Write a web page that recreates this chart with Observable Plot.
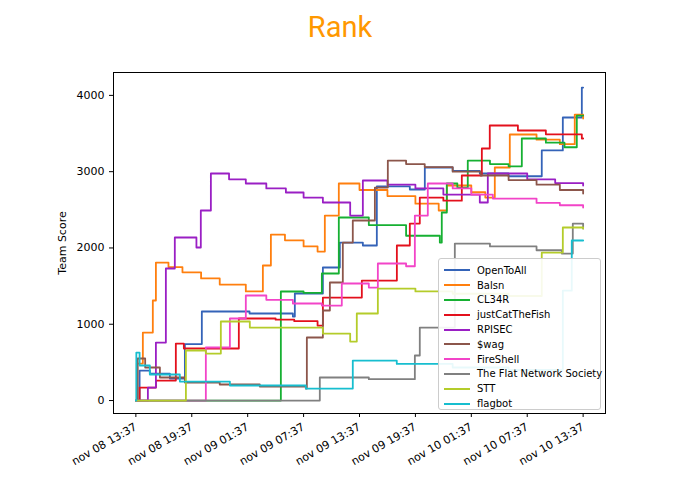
<!DOCTYPE html>
<html><head><meta charset="utf-8">
<script src="https://cdn.jsdelivr.net/npm/d3@7"></script>
<script src="https://cdn.jsdelivr.net/npm/@observablehq/plot@0.6"></script>
<style>
body{margin:0;background:#fff;font-family:"DejaVu Sans",sans-serif;}
#wrap{position:relative;width:680px;height:484px;}
#title{height:50px;line-height:54px;text-align:center;color:#ff9800;font-size:29px;font-family:Roboto,"DejaVu Sans",sans-serif;}
#legend{position:absolute;left:438px;top:258px;width:163px;height:152px;background:rgba(255,255,255,0.9);border:1px solid #ccc;border-radius:3px;box-sizing:border-box;padding-top:4px;font-size:10px;white-space:nowrap;}
.li{height:14.8px;display:flex;align-items:center;}
.li span.s{display:inline-block;width:26px;height:2px;margin:0 7px 0 5px;flex:none;}
</style></head><body>
<div id="wrap"><div id="title">Rank</div><div id="chart"></div><div id="legend"></div></div>
<script>
const teams = ["OpenToAll","Balsn","CL34R","justCatTheFish","RPISEC","$wag","FireShell","The Flat Network Society","STT","flagbot"];
const colors = ["#3463b8","#ff7f0e","#16b032","#e3101c","#9a1fc4","#8c564b","#f244c8","#808080","#b4cc2a","#17becf"];
const xTickHours = [0,6,12,18,24,30,36,42,48];
const yTicks = [0,1000,2000,3000,4000];
// [hours since nov 08 13:37, score]
const OpenToAll = [[0,0],[0.4,393],[1.5,354],[3.65,288],[5.26,740],[7.08,1167],[12.2,1141],[16.85,1101],[17.06,1403],[20.07,1744],[21.89,2071],[24.36,2032],[25.86,2806],[29.4,2766],[31.01,3055],[34,3010],[36.91,2976],[40,2940],[43.56,3278],[45.82,3710],[47.86,4103],[48,4103]];
const Balsn = [[0,0],[0.1,485],[0.75,891],[1.82,1311],[2.15,1809],[3.5,1750],[5,1680],[7,1600],[9,1520],[11.8,1430],[13.63,1770],[14.49,2176],[16,2100],[18,2020],[19.5,1953],[20.28,2425],[21.78,2845],[24,2760],[27,2680],[30,2580],[32.5,2491],[33.37,2819],[36,2730],[37.5,2661],[38.52,3055],[40.13,3487],[43,3420],[45.5,3360],[47.1,3749],[48,3697]];
const CL34R = [[0,0],[15.56,1429],[18,1410],[19.96,1665],[21.78,2399],[25,2300],[29,2160],[32.62,2071],[32.83,2465],[33.37,2845],[34.5,2790],[35.62,3146],[38,3100],[40,3070],[41.42,3435],[44,3380],[46,3320],[47.32,3736],[48,3736]];
const justCatTheFish = [[0,0],[0.4,170],[2.15,262],[4.29,747],[5.15,682],[11.05,1075],[15,1060],[17,1040],[19.5,983],[20.07,1350],[24.25,1573],[28.01,2032],[29.4,2320],[30.47,2661],[33,2620],[34.98,2950],[37.13,3304],[37.98,3605],[41,3540],[44,3490],[47.86,3435],[48,3435]];
const RPISEC = [[0,0],[1.29,170],[2.15,760],[3.22,1731],[4.18,2137],[6.5,2006],[6.97,2491],[8.05,2976],[10,2900],[11.8,2845],[14,2780],[16.1,2727],[18,2660],[20.07,2596],[23,2425],[24.36,2884],[27,2830],[30,2780],[33,2700],[36.91,2596],[37.77,2976],[42,2900],[45,2850],[48,2819]];
const swag = [[0,0],[0.2,551],[1,433],[2.58,302],[5.26,236],[9,210],[13.3,184],[18.24,157],[18.35,826],[20.07,1180],[20.82,1547],[22.21,2071],[23.28,2360],[25.65,2792],[27.04,3146],[29,3100],[31,3060],[34,3000],[37,2950],[40,2890],[43,2830],[45.5,2760],[48,2714]];
const FireShell = [[0,0],[7.51,695],[10.09,1075],[11.8,1377],[14,1320],[16.85,1272],[19.96,1245],[22.1,1534],[25,1481],[25.97,1796],[29,1760],[29.94,2425],[31.33,2845],[34,2780],[36,2700],[38.31,2648],[43,2590],[45.5,2560],[48,2530]];
const FlatNetwork = [[0,0],[19.74,302],[25,280],[29.94,590],[30.47,957],[34.23,2058],[38,2020],[43,1970],[45.71,1927],[46.89,2320],[48,2255]];
const STT = [[0,0],[5.37,656],[7.51,616],[9.12,1036],[12.23,957],[20.07,878],[23,773],[23.71,1141],[25.97,1468],[30,1430],[34,1400],[40,1370],[43.56,1940],[45.82,2268],[48,2255]];
const flagbot = [[0,0],[0.05,629],[0.4,459],[1.5,341],[4.72,249],[10.09,197],[18.24,157],[23.28,524],[28,480],[34,433],[40,400],[45.82,1440],[46.78,2098],[48,2098]];
const series = [OpenToAll,Balsn,CL34R,justCatTheFish,RPISEC,swag,FireShell,FlatNetwork,STT,flagbot];

const t0 = Date.UTC(2018,10,8,13,37);
const toDate = h => new Date(t0 + h*3600e3);
const rows = [];
series.forEach((s,i)=>s.forEach(([h,v])=>rows.push({team:teams[i],t:toDate(h),v})));
const fmt = d3.utcFormat("%b %d %H:%M");

const chart = Plot.plot({
  width:680, height:434,
  marginLeft:113, marginRight:75, marginTop:22, marginBottom:71,
  style:{fontFamily:"DejaVu Sans, sans-serif", fontSize:"11px", color:"#000", background:"#fff"},
  x:{type:"utc", domain:[toDate(-2.4),toDate(50.4)], ticks:xTickHours.map(toDate), tickFormat:d=>fmt(d).toLowerCase(), tickRotate:-30, tickSize:4, label:null},
  y:{domain:[-170,4300], ticks:yTicks, tickFormat:d3.format("d"), tickSize:4, label:"Team Score", labelAnchor:"center", labelOffset:55, labelArrow:"none"},
  color:{domain:teams, range:colors},
  marks:[
    Plot.line(rows,{x:"t",y:"v",z:"team",stroke:"team",curve:"step-after",strokeWidth:1.8}),
    Plot.frame({stroke:"#000",strokeWidth:1})
  ]
});
document.getElementById("chart").appendChild(chart);
const lg = document.getElementById("legend");
teams.forEach((t,i)=>{const d=document.createElement("div");d.className="li";d.innerHTML=`<span class="s" style="background:${colors[i]}"></span>${t.replace("$","&#36;")}`;lg.appendChild(d);});
</script></body></html>
